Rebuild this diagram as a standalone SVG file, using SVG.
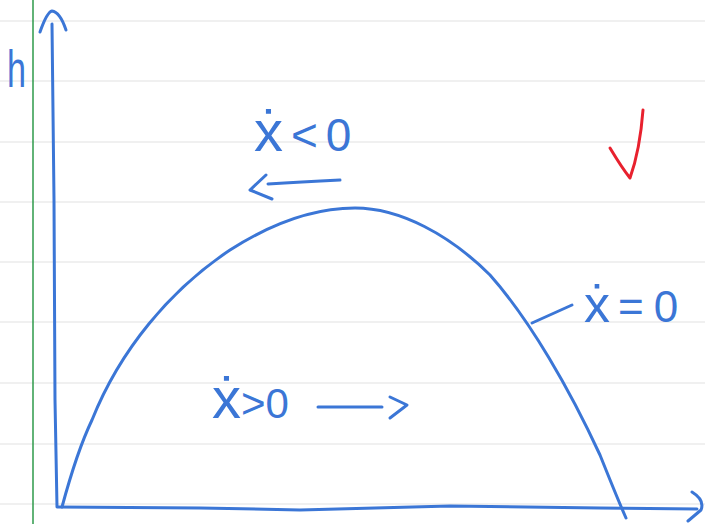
<svg xmlns="http://www.w3.org/2000/svg" width="705" height="524" viewBox="0 0 705 524">
<style>
.rule{stroke:#e2e2e2;stroke-width:1.2}
.ink{fill:none;stroke:#3b76d6;stroke-width:3;stroke-linecap:round;stroke-linejoin:round}
.lbl{font-family:"Liberation Sans","DejaVu Sans",sans-serif;fill:#3b76d6}
</style>
<rect width="705" height="524" fill="#ffffff"/>
<g id="paper">
<line class="rule" x1="0" y1="21" x2="705" y2="21"/>
<line class="rule" x1="0" y1="81" x2="705" y2="81"/>
<line class="rule" x1="0" y1="142" x2="705" y2="142"/>
<line class="rule" x1="0" y1="202" x2="705" y2="202"/>
<line class="rule" x1="0" y1="262" x2="705" y2="262"/>
<line class="rule" x1="0" y1="322" x2="705" y2="322"/>
<line class="rule" x1="0" y1="383" x2="705" y2="383"/>
<line class="rule" x1="0" y1="444" x2="705" y2="444"/>
<line class="rule" x1="0" y1="504" x2="705" y2="504"/>
<line x1="33" y1="0" x2="33" y2="524" stroke="#2e9a4a" stroke-width="1.5"/>
</g>
<g id="axes">
<path class="ink" d="M52,24 L54,200 L55,400 L57,507"/>
<path class="ink" d="M40,32 Q47,12 52,11 Q60,12 66,30"/>
<path class="ink" d="M58,507 L200,508 L300,510 L450,506 L600,508 L697,509"/>
<path class="ink" d="M692,492 Q705,500 701,510 L688,521"/>
</g>
<g id="curve">
<path class="ink" d="M62,507 C72,470 80,445 92,420 C120,350 170,290 230,250 C280,218 320,208 355,208 C400,208 450,235 490,275 C530,320 570,390 600,455 C610,480 618,500 626,518"/>
<path class="ink" d="M532,323 L572,305"/>
</g>
<g id="arrows">
<path class="ink" d="M268,184 Q300,182 340,180"/>
<path class="ink" d="M266,175 L250,190 L272,199"/>
<path class="ink" d="M318,407 L382,407"/>
<path class="ink" d="M390,397 L407,405 L390,418"/>
</g>
<g id="labels">
<text class="lbl" x="7" y="87" font-size="52" textLength="19" lengthAdjust="spacingAndGlyphs">h</text>
<text class="lbl" x="254" y="151" font-size="58">ẋ<tspan font-size="46" dx="8" letter-spacing="8">&lt;0</tspan></text>
<text class="lbl" x="212" y="418" font-size="58">ẋ<tspan font-size="42">&gt;0</tspan></text>
<text class="lbl" x="584" y="322" font-size="52">ẋ<tspan font-size="44" dx="8" letter-spacing="10">=0</tspan></text>
</g>
<g id="check">
<path d="M610,148 Q622,168 630,178 Q640,150 643,110" fill="none" stroke="#e8212e" stroke-width="3" stroke-linecap="round" stroke-linejoin="round"/>
</g>
</svg>
